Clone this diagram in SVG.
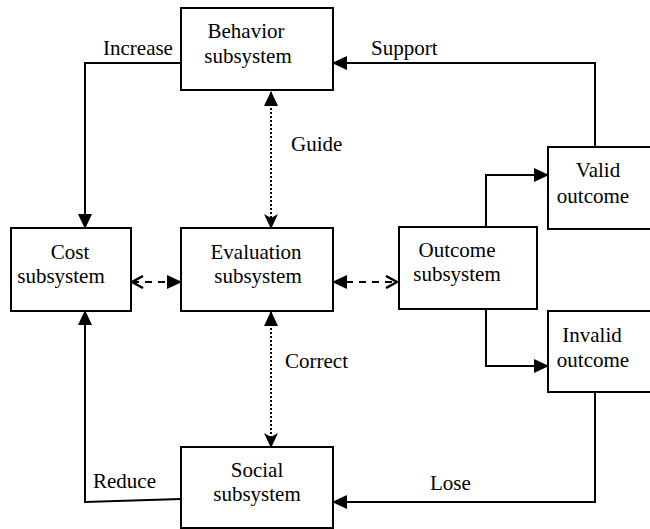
<svg xmlns="http://www.w3.org/2000/svg" width="650" height="529" viewBox="0 0 650 529">
<defs>
<style>
.box{fill:#fff;stroke:#000;stroke-width:2}
.t{font-family:"Liberation Serif","Times New Roman",serif;font-size:21px;fill:#000}
.c{text-anchor:middle}
.ln{fill:none;stroke:#000;stroke-width:2}
.dot{fill:none;stroke:#000;stroke-width:2;stroke-dasharray:2 2}
.dash{fill:none;stroke:#000;stroke-width:2;stroke-dasharray:7 6}
</style>
<marker id="tri" markerUnits="userSpaceOnUse" markerWidth="15" markerHeight="14" refX="14" refY="7" orient="auto-start-reverse" viewBox="0 0 15 14">
<path d="M0,0 L15,7 L0,14 Z" fill="#000"/>
</marker>
<marker id="stealth" markerUnits="userSpaceOnUse" markerWidth="15" markerHeight="14" refX="14" refY="7" orient="auto-start-reverse" viewBox="0 0 15 14">
<path d="M0,0 L15,7 L0,14 L4,7 Z" fill="#000"/>
</marker>
<marker id="chev" markerUnits="userSpaceOnUse" markerWidth="14" markerHeight="14" refX="12" refY="7" orient="auto-start-reverse" viewBox="0 0 14 14">
<path d="M1,1 L12,7 L1,13" fill="none" stroke="#000" stroke-width="2.5"/>
</marker>
</defs>
<g id="connectors">
<polyline class="ln" points="181,63 85,63 85,228" marker-end="url(#tri)"/>
<polyline class="ln" points="595,147 595,63 333,63" marker-end="url(#tri)"/>
<polyline class="ln" points="486,227 486,175 548,175" marker-end="url(#tri)"/>
<polyline class="ln" points="486,309 486,366 548,366" marker-end="url(#tri)"/>
<polyline class="ln" points="595,392 595,502 333,502" marker-end="url(#tri)"/>
<polyline class="ln" points="181,499 85,502 85,311" marker-end="url(#tri)"/>
<line class="dot" x1="271" y1="92" x2="271" y2="228" marker-start="url(#tri)" marker-end="url(#stealth)"/>
<line class="dot" x1="271" y1="312" x2="271" y2="447" marker-start="url(#tri)" marker-end="url(#stealth)"/>
<line class="dash" x1="132" y1="282" x2="181" y2="282" marker-start="url(#chev)" marker-end="url(#tri)"/>
<line class="dash" x1="333" y1="282" x2="397" y2="282" marker-start="url(#tri)" marker-end="url(#chev)"/>
<text class="t" x="103" y="55">Increase</text>
<text class="t" x="371" y="55">Support</text>
<text class="t" x="291" y="151">Guide</text>
<text class="t" x="285" y="368">Correct</text>
<text class="t" x="93" y="488">Reduce</text>
<text class="t" x="430" y="490">Lose</text>
</g>
<g id="behavior">
<rect class="box" x="181" y="8" width="152" height="82"/>
<text class="t c" x="246" y="38">Behavior</text>
<text class="t c" x="248" y="63">subsystem</text>
</g>
<g id="cost">
<rect class="box" x="11" y="228" width="120" height="83"/>
<text class="t c" x="70" y="259">Cost</text>
<text class="t c" x="61" y="283">subsystem</text>
</g>
<g id="evaluation">
<rect class="box" x="181" y="228" width="152" height="83"/>
<text class="t c" x="256" y="259">Evaluation</text>
<text class="t c" x="258" y="283">subsystem</text>
</g>
<g id="outcome">
<rect class="box" x="399" y="227" width="138" height="82"/>
<text class="t c" x="457" y="257">Outcome</text>
<text class="t c" x="457" y="281">subsystem</text>
</g>
<g id="valid">
<rect class="box" x="548" y="147" width="110" height="82"/>
<text class="t c" x="598" y="177">Valid</text>
<text class="t c" x="593" y="203">outcome</text>
</g>
<g id="invalid">
<rect class="box" x="548" y="311" width="110" height="81"/>
<text class="t c" x="592" y="342">Invalid</text>
<text class="t c" x="593" y="367">outcome</text>
</g>
<g id="social">
<rect class="box" x="181" y="447" width="152" height="81"/>
<text class="t c" x="257" y="477">Social</text>
<text class="t c" x="257" y="501">subsystem</text>
</g>
</svg>
